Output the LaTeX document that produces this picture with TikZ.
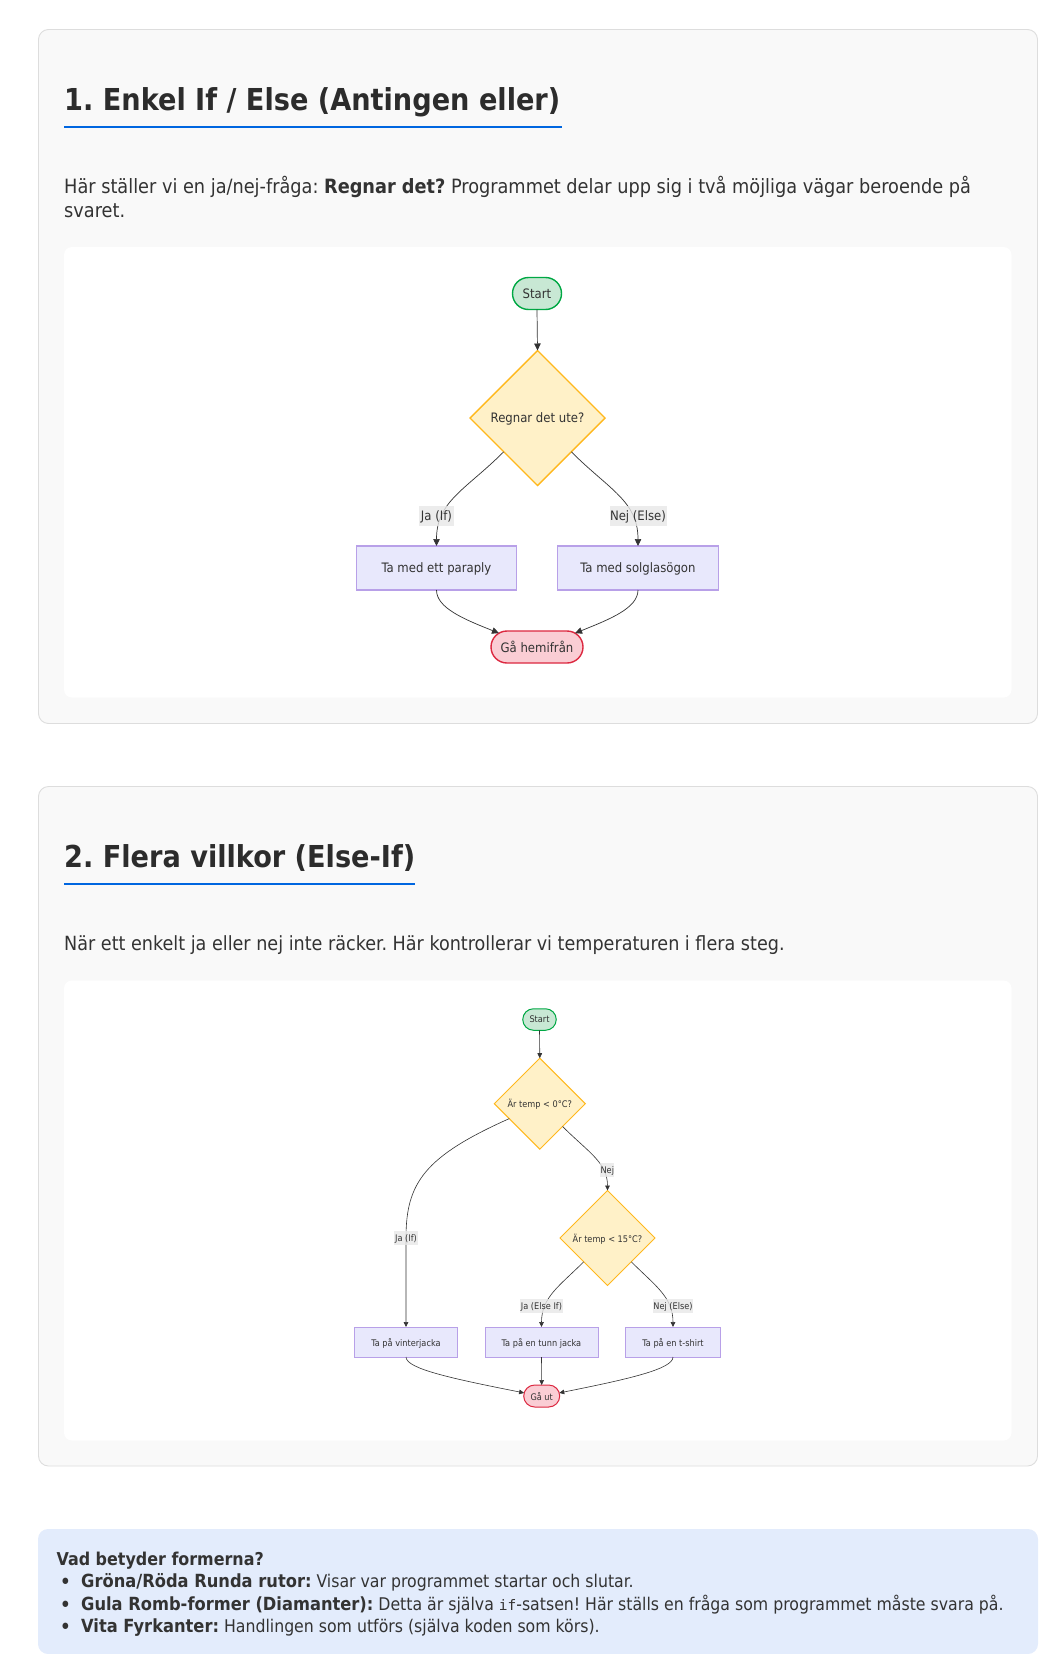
\documentclass[tikz,border=0pt]{standalone}
\usepackage{fontspec}
\setmainfont{DejaVu Sans Condensed}
\setmonofont{DejaVu Sans Mono}
\usepackage{xcolor}
\definecolor{inktext}{RGB}{51,51,51}
\definecolor{headtext}{RGB}{44,44,44}
\definecolor{underblue}{RGB}{0,102,224}
\definecolor{panelfill}{RGB}{249,249,249}
\definecolor{panelline}{RGB}{221,221,221}
\definecolor{notefill}{RGB}{227,236,252}
\definecolor{greenfill}{RGB}{200,232,212}
\definecolor{greenline}{RGB}{0,168,68}
\definecolor{redfill}{RGB}{250,205,212}
\definecolor{redline}{RGB}{220,40,64}
\definecolor{yellowfill}{RGB}{255,241,200}
\definecolor{yellowline}{RGB}{255,184,28}
\definecolor{boxfill}{RGB}{232,232,252}
\definecolor{boxline}{RGB}{184,160,232}
\definecolor{labelfill}{RGB}{232,232,232}
\usetikzlibrary{arrows.meta,shapes.geometric,shapes.misc}
\newcommand\keyword[1]{{\fontsize{18.1}{22}\selectfont\bfseries #1}}
\tikzset{
  panel/.style={fill=panelfill,draw=panelline,line width=.9pt,rounded corners=10pt},
  inner panel/.style={fill=white,rounded corners=8pt},
  heading/.style={anchor=base west,inner sep=0pt,font=\fontsize{30.2}{36}\selectfont\bfseries\frenchspacing,text=headtext},
  body/.style={anchor=base west,inner sep=0pt,font=\fontsize{19.7}{24}\selectfont\frenchspacing,text=inktext},
  note/.style={anchor=base west,inner sep=0pt,font=\fontsize{17.5}{22}\selectfont\frenchspacing,text=inktext},
  underline/.style={underblue,line width=2pt},
  terminal/.style={rounded rectangle,draw,outer sep=0pt,inner sep=0pt,text=inktext},
  go/.style={terminal,fill=greenfill,draw=greenline},
  stop/.style={terminal,fill=redfill,draw=redline},
  question/.style={diamond,aspect=1,draw=yellowline,fill=yellowfill,outer sep=0pt,inner sep=0pt,text=inktext},
  action/.style={rectangle,draw=boxline,fill=boxfill,outer sep=0pt,inner sep=0pt,text=inktext},
  edgelabel/.style={fill=labelfill,fill opacity=.8,text opacity=1,inner sep=0pt,text=inktext},
  big/.style={font=\fontsize{13}{15}\selectfont,line width=1.4pt,text depth=0pt},
  small/.style={font=\fontsize{9.1}{11}\selectfont,line width=1pt,text depth=0pt},
  flow/.style={draw=inktext,line width=.7pt,-{Triangle[length=7pt,width=6.5pt]}},
  flow small/.style={draw=inktext,line width=.6pt,-{Triangle[length=5pt,width=4.6pt]}},
}
\begin{document}
\begin{tikzpicture}[x=1pt,y=-1pt]
  \useasboundingbox (0,0) rectangle (1058,1654);

  % The panels:
  \draw[panel] (38.5,29.5) rectangle (1037.5,723.5);
  \fill[inner panel] (64,247) rectangle (1011.5,697.5);
  \draw[panel] (38.5,786.5) rectangle (1037.5,1466);
  \fill[inner panel] (64,980.5) rectangle (1011.5,1440.5);
  \fill[notefill,rounded corners=10pt] (38,1529) rectangle (1038,1654);

  % The first section:
  \node[heading] (titleone) at (64,110) {1. Enkel If / Else (Antingen eller)};
  \draw[underline] (64,127) -- (562,127);
  \node[body] (textone) at (64,193) {Här ställer vi en ja/nej-fråga: \textbf{Regnar det?} Programmet delar upp sig i två möjliga vägar beroende på};
  \node[body] (texttwo) at (64,217) {svaret.};

  \node[go,big,minimum width=49pt,minimum height=32pt] (start) at (537,293.5) {Start};
  \node[question,big,minimum width=135pt,minimum height=135pt] (rain) at (537.5,418) {Regnar det ute?};
  \node[action,big,minimum width=160pt,minimum height=44pt] (umbrella) at (436.5,568) {Ta med ett paraply};
  \node[action,big,minimum width=161pt,minimum height=44pt] (shades) at (638,568) {Ta med solglasögon};
  \node[stop,big,minimum width=92pt,minimum height=32pt] (home) at (537,647) {Gå hemifrån};

  \draw[flow] (start.south) -- (rain.north);
  \draw[flow] (rain.225) .. controls +(-38,38) and +(0,-45) .. (umbrella.north);
  \draw[flow] (rain.-45) .. controls +(38,38) and +(0,-45) .. (shades.north);
  \draw[flow] (umbrella.south) .. controls +(0,18) and +(-35,-14) .. (home.160);
  \draw[flow] (shades.south) .. controls +(0,18) and +(35,-14) .. (home.20);

  \node[edgelabel,big,minimum width=35pt,minimum height=19.5pt] (labelif) at (436.5,516) {Ja (If)};
  \node[edgelabel,big,minimum width=57pt,minimum height=19.5pt] (labelelse) at (638,516) {Nej (Else)};

  % The second section:
  \node[heading] (titletwo) at (64,867) {2. Flera villkor (Else-If)};
  \draw[underline] (64,883.8) -- (415,883.8);
  \node[body,font=\fontsize{19.55}{24}\selectfont\frenchspacing] (textthree) at (64,950) {När ett enkelt ja eller nej inte räcker. Här kontrollerar vi temperaturen i flera steg.};

  \node[go,small,minimum width=33.5pt,minimum height=21.5pt] (begin) at (539.5,1019.5) {Start};
  \node[question,small,minimum width=91pt,minimum height=91pt] (cold) at (539.8,1103.7) {Är temp < 0°C?};
  \node[question,small,minimum width=95pt,minimum height=95pt] (mild) at (607.5,1238) {Är temp < 15°C?};
  \node[action,small,minimum width=103pt,minimum height=30pt] (winter) at (406,1342) {Ta på vinterjacka};
  \node[action,small,minimum width=113pt,minimum height=30pt] (thin) at (541.5,1342) {Ta på en tunn jacka};
  \node[action,small,minimum width=95pt,minimum height=30pt] (shirt) at (673,1342) {Ta på en t-shirt};
  \node[stop,small,minimum width=36pt,minimum height=22pt] (out) at (541.7,1396) {Gå ut};
  \coordinate (bend) at (406,1238);

  \draw[flow small] (begin.south) -- (cold.north);
  \draw[flow small] (cold.206) .. controls +(-85,38) and +(0,-55) .. (bend) -- (winter.north);
  \draw[flow small] (cold.-45) .. controls +(26,26) and +(0,-28) .. (mild.north);
  \draw[flow small] (mild.225) .. controls +(-24,24) and +(0,-30) .. (thin.north);
  \draw[flow small] (mild.-45) .. controls +(24,24) and +(0,-30) .. (shirt.north);
  \draw[flow small] (winter.south) .. controls +(0,12) and +(-70,-14) .. (out.170);
  \draw[flow small] (thin.south) -- (out.north);
  \draw[flow small] (shirt.south) .. controls +(0,12) and +(70,-14) .. (out.10);

  \node[edgelabel,small,minimum width=24.5pt,minimum height=14pt] (labelwarm) at (bend) {Ja (If)};
  \node[edgelabel,small,minimum width=14pt,minimum height=14pt] (labelno) at (607.3,1170) {Nej};
  \node[edgelabel,small,minimum width=43pt,minimum height=14pt] (labelmid) at (541.5,1306) {Ja (Else If)};
  \node[edgelabel,small,minimum width=39.5pt,minimum height=14pt] (labellast) at (673,1306) {Nej (Else)};

  % The note at the bottom:
  \node[note,font=\fontsize{17.7}{22}\selectfont] (notetitle) at (56.5,1565) {\textbf{Vad betyder formerna?}};
  \foreach \name/\ypos/\itemtext in {
    itemone/1587/{\keyword{Gröna/Röda Runda rutor:} Visar var programmet startar och slutar.},
    itemtwo/1610/{\keyword{Gula Romb-former (Diamanter):} Detta är själva {\ttfamily\fontsize{14.5}{20}\selectfont if}-satsen! Här ställs en fråga som programmet måste svara på.},
    itemthree/1632/{\keyword{Vita Fyrkanter:} Handlingen som utförs (själva koden som körs).}} {
    \node[note,font=\fontsize{22}{22}\selectfont,yshift=-2.5pt] at (59.5,\ypos) {•};
    \node[note] (\name) at (81,\ypos) {\itemtext};
  }
\end{tikzpicture}
\end{document}
